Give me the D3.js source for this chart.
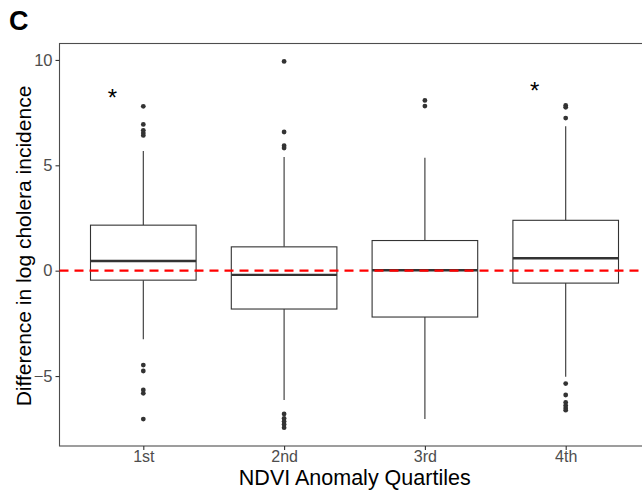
<!DOCTYPE html>
<html>
<head>
<meta charset="utf-8">
<script src="https://cdn.jsdelivr.net/npm/d3@7"></script>
<style>
  html, body { margin: 0; padding: 0; background: #fff; }
  svg { display: block; font-family: "Liberation Sans", Arial, sans-serif; }
</style>
</head>
<body>
<svg id="chart" width="642" height="493"></svg>
<script>
// ---- data ----
const categories = ["1st", "2nd", "3rd", "4th"];
const whiskerLow = [-3.25, -6.14, -7.04, -5.03];
const q1 = [-0.45, -1.82, -2.20, -0.59];
const median = [0.46, -0.20, 0.02, 0.59];
const q3 = [2.16, 1.13, 1.43, 2.39];
const whiskerHigh = [5.68, 5.39, 5.36, 6.85];
const outliers = [
  [7.80, 6.94, 6.66, 6.53, 6.42, -4.48, -4.76, -5.66, -5.82, -7.04],
  [9.93, 6.58, 5.93, 5.82, -6.80, -7.01, -7.16, -7.30, -7.45],
  [8.08, 7.81],
  [7.84, 7.75, 7.24, -5.36, -5.90, -6.25, -6.40, -6.52, -6.62]
];
const significant = [true, false, false, true];
const starValues = [8.45, null, null, 8.75];
const yTicks = [-5, 0, 5, 10];
const referenceValue = 0;

// ---- layout ----
const svg = d3.select("#chart");
const panel = { left: 59.5, right: 650, top: 43.5, bottom: 446 };

const y = d3.scaleLinear().domain([-8.32, 10.78]).range([panel.bottom, panel.top]);
const x = d3.scalePoint().domain(categories).range([143.3, 565.7]);
const step = x.step();
const boxW = step * 0.75;

// panel border
svg.append("rect")
  .attr("x", panel.left).attr("y", panel.top)
  .attr("width", panel.right - panel.left).attr("height", panel.bottom - panel.top)
  .attr("fill", "none").attr("stroke", "#4d4d4d").attr("stroke-width", 1.1);

// y axis
const yAxis = d3.axisLeft(y).tickValues(yTicks).tickSize(4).tickPadding(3)
  .tickFormat(d => d < 0 ? "\u2212" + Math.abs(d) : String(d));
const gy = svg.append("g").attr("transform", `translate(${panel.left},0)`).call(yAxis);
gy.select(".domain").remove();
gy.selectAll(".tick line").attr("stroke", "#333").attr("stroke-width", 1.1);
gy.selectAll(".tick text").attr("fill", "#4d4d4d").style("font-size", "16.5px")
  .style("font-family", "'Liberation Sans', Arial, sans-serif");

// x axis
const xAxis = d3.axisBottom(x).tickSize(4).tickPadding(1);
const gx = svg.append("g").attr("transform", `translate(0,${panel.bottom})`).call(xAxis);
gx.select(".domain").remove();
gx.selectAll(".tick line").attr("stroke", "#333").attr("stroke-width", 1.1);
gx.selectAll(".tick text").attr("fill", "#4d4d4d").style("font-size", "16px")
  .style("font-family", "'Liberation Sans', Arial, sans-serif");

// boxes
const stroke = "#333333";
const g = svg.append("g");
categories.forEach((c, i) => {
  const cx = x(c);
  g.append("line").attr("x1", cx).attr("x2", cx)
    .attr("y1", y(q3[i])).attr("y2", y(whiskerHigh[i]))
    .attr("stroke", stroke).attr("stroke-width", 1.1);
  g.append("line").attr("x1", cx).attr("x2", cx)
    .attr("y1", y(q1[i])).attr("y2", y(whiskerLow[i]))
    .attr("stroke", stroke).attr("stroke-width", 1.1);
  g.append("rect")
    .attr("x", cx - boxW / 2).attr("width", boxW)
    .attr("y", y(q3[i])).attr("height", y(q1[i]) - y(q3[i]))
    .attr("fill", "#fff").attr("stroke", stroke).attr("stroke-width", 1.1);
  g.append("line")
    .attr("x1", cx - boxW / 2).attr("x2", cx + boxW / 2)
    .attr("y1", y(median[i])).attr("y2", y(median[i]))
    .attr("stroke", stroke).attr("stroke-width", 2.3);
  g.selectAll(null).data(outliers[i]).enter().append("circle")
    .attr("cx", cx).attr("cy", d => y(d)).attr("r", 2.4)
    .attr("fill", stroke);
});

// reference dashed line
svg.append("line")
  .attr("x1", panel.left).attr("x2", panel.right)
  .attr("y1", y(referenceValue)).attr("y2", y(referenceValue))
  .attr("stroke", "#ff0000").attr("stroke-width", 2.4)
  .attr("stroke-dasharray", "9,6");

// significance asterisks
categories.forEach((c, i) => {
  if (!significant[i]) return;
  svg.append("text")
    .attr("x", x(c) - 31).attr("y", y(starValues[i]) + 13)
    .attr("text-anchor", "middle")
    .style("font-size", "24px").attr("fill", "#000")
    .text("*");
});

// axis titles
svg.append("text")
  .attr("x", (panel.left + panel.right) / 2).attr("y", 485)
  .attr("text-anchor", "middle").style("font-size", "21.5px").attr("fill", "#000")
  .text("NDVI Anomaly Quartiles");
svg.append("text")
  .attr("transform", "translate(30.5,246) rotate(-90)")
  .attr("text-anchor", "middle").style("font-size", "21px").attr("fill", "#000")
  .text("Difference in log cholera incidence");

// panel letter
svg.append("text")
  .attr("x", 9).attr("y", 30)
  .style("font-size", "27px").style("font-weight", "bold").attr("fill", "#000")
  .text("C");
</script>
</body>
</html>
